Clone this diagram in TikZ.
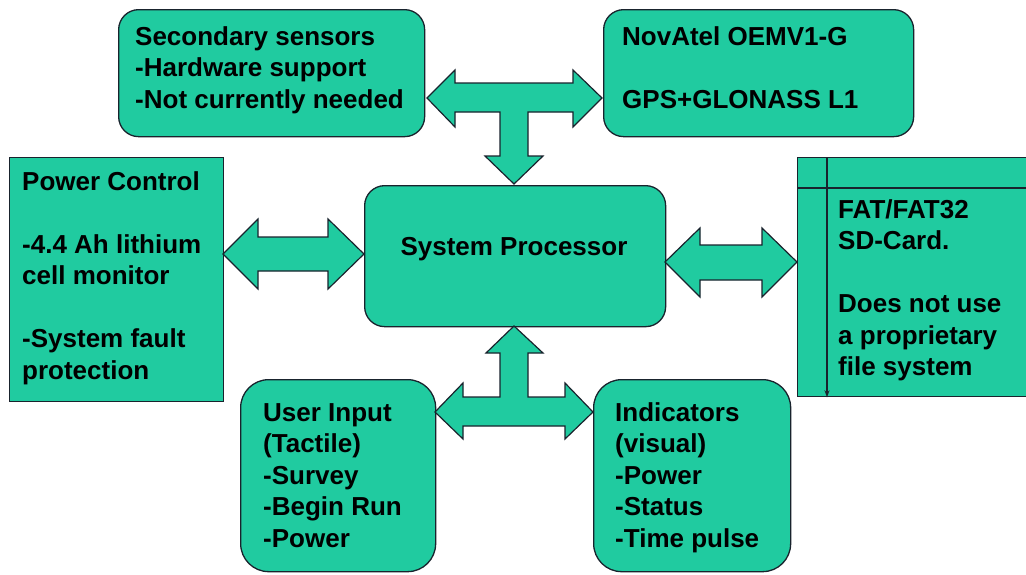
\documentclass[tikz,border=0pt]{standalone}
\usepackage{fontspec}
\setmainfont{Liberation Sans}
\usetikzlibrary{arrows.meta,calc}
\definecolor{teal1}{RGB}{32,203,160}
\definecolor{edge}{RGB}{25,35,45}
\newcommand{\mylines}[1]{\begin{tabular}[t]{@{}l@{}}#1\end{tabular}}
\begin{document}
\begin{tikzpicture}[x=1pt,y=-1pt,
  box/.style={draw=edge, line width=1.3pt, fill=teal1, inner sep=0pt, anchor=north west},
  txt/.style={anchor=base west, inner sep=0pt, font=\fontsize{26}{31.5}\selectfont\bfseries},
  fat/.style={draw=edge, line width=1.2pt, fill=teal1, line join=miter}]
\clip (0,0) rectangle (1026,574);
\fill[white] (0,0) rectangle (1026,574);

% boxes
\node[box, rounded corners=20pt, minimum width=306pt, minimum height=127pt] (sec) at (118,9) {};
\node[box, rounded corners=20pt, minimum width=310pt, minimum height=127pt] (nov) at (603,9) {};
\node[box, minimum width=214pt, minimum height=244pt] (pwr) at (9,157) {};
\node[box, rounded corners=20pt, minimum width=301pt, minimum height=141pt] (proc) at (364,185) {};
\node[box, minimum width=260pt, minimum height=239pt] (sd) at (797,157) {};
\node[box, rounded corners=28pt, minimum width=195pt, minimum height=192pt] (usr) at (240,379) {};
\node[box, rounded corners=28pt, minimum width=197pt, minimum height=192pt] (ind) at (593,379) {};

% SD card inner lines
\draw[edge, line width=1.2pt, -{Stealth[length=7pt,width=5pt]}] ($(sd.north west)+(30,0)$) -- ($(sd.south west)+(30,0)$);
\draw[edge, line width=1.2pt] ($(sd.north west)+(0,31)$) -- ($(sd.north east)+(0,31)$);

% texts
\node[txt] (tsec) at (135,45) {\mylines{Secondary sensors\\-Hardware support\\-Not currently needed}};
\node[txt] (tnov) at (622,45) {\mylines{NovAtel OEMV1-G\\ \\GPS+GLONASS L1}};
\node[txt] (tpwr) at (22,190) {\mylines{Power Control\\ \\-4.4 Ah lithium\\cell monitor\\ \\-System fault\\protection}};
\node[txt, anchor=base] (tproc) at (514,255) {System Processor};
\node[txt] (tsd) at (838,218) {\mylines{FAT/FAT32\\SD-Card.\\ \\Does not use\\a proprietary\\file system}};
\node[txt] (tusr) at (263,421) {\mylines{User Input\\(Tactile)\\-Survey\\-Begin Run\\-Power}};
\node[txt] (tind) at (615,421) {\mylines{Indicators\\(visual)\\-Power\\-Status\\-Time pulse}};

% top T arrow: sec <-> nov, down to proc
\draw[fat] (427,98) -- (455,70) -- (455,83) -- (573,83) -- (573,70) -- (602,98)
  -- (573,127) -- (573,112) -- (528,112) -- (528,156) -- (543,156) -- (514,184)
  -- (485,156) -- (500,156) -- (500,112) -- (455,112) -- (455,127) -- cycle;

% bottom T arrow: proc up, usr <-> ind
\draw[fat] (514,326) -- (543,353) -- (528,353) -- (528,397) -- (565,397) -- (565,383)
  -- (593,412) -- (565,439) -- (565,426) -- (463,426) -- (463,439) -- (435,412)
  -- (463,383) -- (463,397) -- (500,397) -- (500,353) -- (486,353) -- cycle;

% pwr <-> proc
\draw[fat] (223,254) -- (258,219) -- (258,237) -- (328,237) -- (328,219) -- (364,254)
  -- (328,289) -- (328,271) -- (258,271) -- (258,289) -- cycle;

% proc <-> sd
\draw[fat] (665,262) -- (700,228) -- (700,245) -- (762,245) -- (762,228) -- (797,262)
  -- (762,297) -- (762,280) -- (700,280) -- (700,297) -- cycle;
\end{tikzpicture}
\end{document}
